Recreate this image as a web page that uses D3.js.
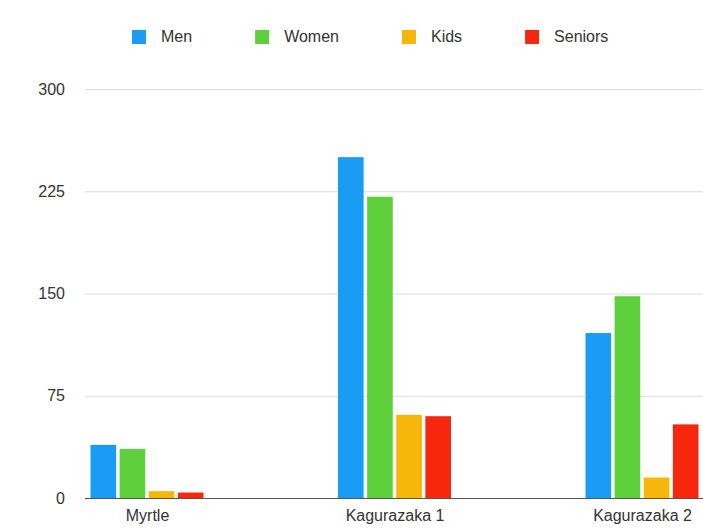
<!DOCTYPE html>
<html>
<head>
<meta charset="utf-8">
<script src="https://cdn.jsdelivr.net/npm/d3@7"></script>
<style>
  html, body { margin: 0; padding: 0; background: #fff; }
  svg { display: block; font-family: "Liberation Sans", Arial, Helvetica, sans-serif; }
</style>
</head>
<body>
<svg id="chart" width="703" height="529"></svg>
<script>
// Visitor counts per location, split by group
const categories = ["Myrtle", "Kagurazaka 1", "Kagurazaka 2"];
const seriesNames = ["Men", "Women", "Kids", "Seniors"];
const men = [39, 250, 121];
const women = [36, 221, 148];
const kids = [5, 61, 15];
const seniors = [4, 60, 54];
const yTicks = [0, 75, 150, 225, 300];
const colors = ["#1a9cf4", "#5dd03c", "#f6b60a", "#f7270e"];

const seriesValues = [men, women, kids, seniors];

const svg = d3.select("#chart");
const W = 703, H = 529;
const plotLeft = 85, plotRight = 703;

const y = d3.scaleLinear().domain([0, 300]).range([498, 89]);
const x0 = d3.scalePoint().domain(categories).range([147, 642]);
const x1 = d3.scaleBand().domain(seriesNames).range([-56.5, 56.5]).paddingInner(0.12);
const color = d3.scaleOrdinal().domain(seriesNames).range(colors);

// Horizontal gridlines with value labels
const yAxis = d3.axisLeft(y).tickValues(yTicks).tickSize(-(plotRight - plotLeft)).tickPadding(20);
const gy = svg.append("g").attr("transform", `translate(${plotLeft},0)`).call(yAxis);
gy.select(".domain").remove();
gy.selectAll(".tick line").attr("stroke", "#dcdcdc").attr("stroke-width", 1);
gy.selectAll(".tick text").attr("fill", "#333").attr("font-size", 16);
gy.selectAll(".tick").filter(d => d === 0).select("line").remove();

// Bars
const rows = categories.map((c, i) => ({ cat: c, vals: seriesNames.map((s, j) => ({ s, v: seriesValues[j][i] })) }));
svg.append("g").selectAll("g").data(rows).join("g")
  .attr("transform", d => `translate(${x0(d.cat)},0)`)
  .selectAll("rect").data(d => d.vals).join("rect")
  .attr("x", d => x1(d.s))
  .attr("width", x1.bandwidth())
  .attr("y", d => y(d.v))
  .attr("height", d => y(0) - y(d.v))
  .attr("fill", d => color(d.s));

// Baseline and category labels
const xAxis = d3.axisBottom(x0).tickSize(0).tickPadding(12);
const gx = svg.append("g").attr("transform", `translate(0,${y(0)})`).call(xAxis);
gx.select(".domain").remove();
gx.selectAll(".tick text").attr("fill", "#333").attr("font-size", 16);
svg.append("line")
  .attr("x1", plotLeft).attr("x2", plotRight)
  .attr("y1", y(0) + 0.5).attr("y2", y(0) + 0.5)
  .attr("stroke", "#555").attr("stroke-width", 1.2);

// Legend
const legend = svg.append("g").attr("transform", "translate(132,30)");
let lx = 0;
seriesNames.forEach(name => {
  const item = legend.append("g").attr("transform", `translate(${lx},0)`);
  item.append("rect").attr("width", 14).attr("height", 14).attr("fill", color(name));
  const t = item.append("text").attr("x", 29).attr("y", 12)
    .attr("font-size", 16).attr("fill", "#333").text(name);
  lx += 29 + t.node().getComputedTextLength() + 63;
});
</script>
</body>
</html>
